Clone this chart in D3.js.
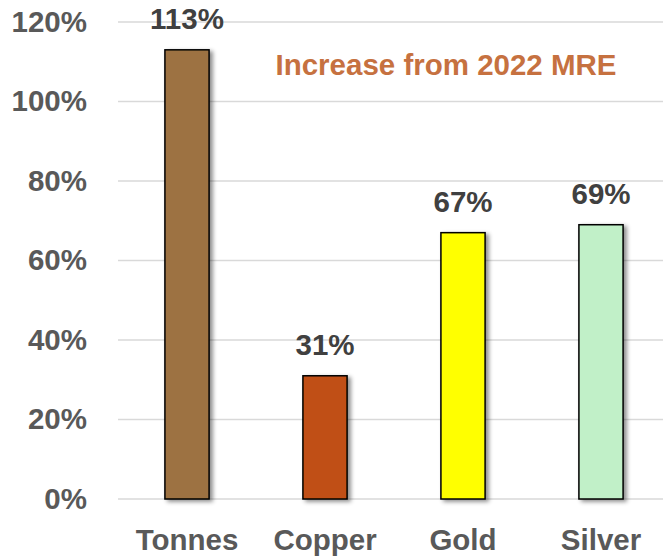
<!DOCTYPE html>
<html>
<head>
<meta charset="utf-8">
<script src="https://cdn.jsdelivr.net/npm/d3@7"></script>
<style>
  html, body { margin: 0; padding: 0; background: #fff; }
  svg { display: block; font-family: "Liberation Sans", Arial, sans-serif; }
</style>
</head>
<body>
<div id="chart"></div>
<script>
const categories = ["Tonnes", "Copper", "Gold", "Silver"];
const values = [1.13, 0.31, 0.67, 0.69];
const colors = ["#9D7243", "#C04F15", "#FFFF00", "#C1F0C8"];
const yTicks = [0, 0.2, 0.4, 0.6, 0.8, 1.0, 1.2];
const titleText = "Increase from 2022 MRE";

const W = 663, H = 556;
const svg = d3.select("#chart").append("svg").attr("width", W).attr("height", H);

const defs = svg.append("defs");
const f = defs.append("filter").attr("id", "shadow")
  .attr("x", "-30%").attr("y", "-10%").attr("width", "160%").attr("height", "120%");
f.append("feDropShadow").attr("dx", 3).attr("dy", 2).attr("stdDeviation", 2.2)
  .attr("flood-color", "#000").attr("flood-opacity", 0.45);

const x = d3.scaleBand().domain(categories).range([118, 670]).paddingInner(0.68).paddingOuter(0.34);
const y = d3.scaleLinear().domain([0, 1.2]).range([499, 22]);

// gridlines
svg.append("g").selectAll("line").data(yTicks).join("line")
  .attr("x1", 118).attr("x2", W)
  .attr("y1", d => y(d)).attr("y2", d => y(d))
  .attr("stroke", "#D9D9D9").attr("stroke-width", 1.5);

// y tick labels
const yAxis = d3.axisLeft(y).tickValues(yTicks).tickFormat(d3.format(".0%")).tickSize(0).tickPadding(0);
const ya = svg.append("g").attr("transform", "translate(87,0)").call(yAxis);
ya.select(".domain").remove();
ya.selectAll("text")
  .attr("font-size", 29.5).attr("font-weight", "bold").attr("fill", "#595959")
  .attr("font-family", "'Liberation Sans', Arial, sans-serif");

// bars
svg.append("g").selectAll("rect").data(categories).join("rect")
  .attr("x", d => x(d)).attr("width", x.bandwidth())
  .attr("y", (d, i) => y(values[i])).attr("height", (d, i) => y(0) - y(values[i]))
  .attr("fill", (d, i) => colors[i])
  .attr("stroke", "#000").attr("stroke-width", 1.5)
  .attr("filter", "url(#shadow)");

// value labels
svg.append("g").selectAll("text").data(categories).join("text")
  .attr("x", d => x(d) + x.bandwidth() / 2)
  .attr("y", (d, i) => y(values[i]) - 21)
  .attr("text-anchor", "middle")
  .attr("font-size", 29.5).attr("font-weight", "bold").attr("fill", "#404040")
  .text((d, i) => d3.format(".0%")(values[i]));

// x axis labels
const xAxis = d3.axisBottom(x).tickSize(0).tickPadding(0);
const xa = svg.append("g").attr("transform", "translate(0,529)").call(xAxis);
xa.select(".domain").remove();
xa.selectAll("text")
  .attr("dy", "0.72em")
  .attr("font-size", 29.5).attr("font-weight", "bold").attr("fill", "#595959")
  .attr("font-family", "'Liberation Sans', Arial, sans-serif");

// title
svg.append("text")
  .attr("x", 446).attr("y", 75)
  .attr("text-anchor", "middle")
  .attr("font-size", 29.5).attr("font-weight", "bold").attr("fill", "#C67140")
  .text(titleText);
</script>
</body>
</html>
